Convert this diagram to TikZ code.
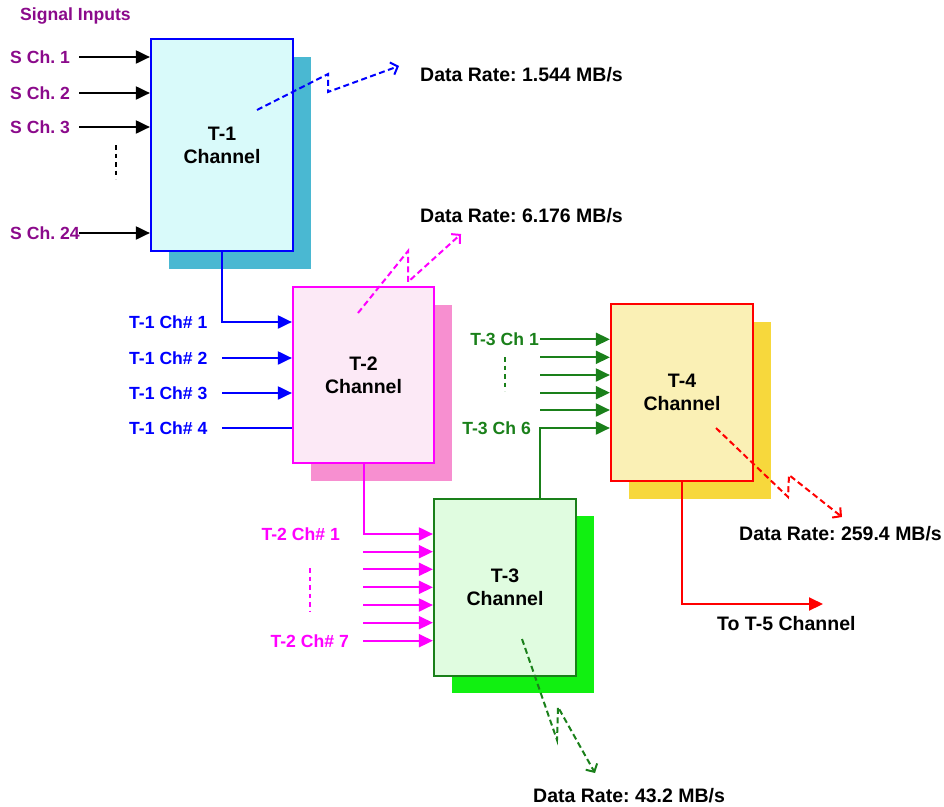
\documentclass[tikz,border=0pt]{standalone}
\usepackage{fontspec}
\setmainfont{Liberation Sans}
\usetikzlibrary{arrows.meta,shadows}
\frenchspacing
\begin{document}
\begin{tikzpicture}[x=1pt,y=-1pt,
  chbox/.style={draw,line width=2.2pt,minimum width=142pt,minimum height=177pt,inner sep=0pt,align=center,
    font=\fontsize{19.5}{23}\selectfont\bfseries},
  feed/.style={line width=2pt,-{Triangle[length=14pt,width=13pt]}},
  plain/.style={line width=2pt},
  rate/.style={line width=2pt,dash pattern=on 6pt off 3.5pt,-{Straight Barb[length=6pt,width=13pt]}},
  gap/.style={line width=1.8pt,dash pattern=on 4.5pt off 4pt},
  lbl/.style={inner sep=0pt,font=\fontsize{17.6}{20}\selectfont\bfseries},
  big/.style={inner sep=0pt,font=\fontsize{19.5}{22}\selectfont\bfseries}]
\definecolor{purp}{HTML}{8B0A8B}
\definecolor{mag}{HTML}{FF00FF}
\definecolor{grn}{HTML}{1A801A}
\definecolor{fillone}{HTML}{D9FAFA}
\definecolor{shadeone}{HTML}{4AB8D2}
\definecolor{filltwo}{HTML}{FCE9F6}
\definecolor{shadetwo}{HTML}{F78FD0}
\definecolor{fillthree}{HTML}{E0FCE0}
\definecolor{shadethree}{HTML}{11F011}
\definecolor{fillfour}{HTML}{FAF0B5}
\definecolor{shadefour}{HTML}{F7D83C}
\useasboundingbox (0,0) rectangle (944,806);
% channel boxes
\node[chbox,draw=blue,fill=fillone,minimum height=212pt,
  drop shadow={shadow xshift=18pt,shadow yshift=-18pt,fill=shadeone,opacity=1}] (t1) at (222,145) {T-1\\Channel};
\node[chbox,draw=mag,fill=filltwo,minimum width=141pt,minimum height=176pt,
  drop shadow={shadow xshift=18pt,shadow yshift=-18pt,fill=shadetwo,opacity=1}] (t2) at (363.5,375) {T-2\\Channel};
\node[chbox,draw=grn,fill=fillthree,
  drop shadow={shadow xshift=18pt,shadow yshift=-17pt,fill=shadethree,opacity=1}] (t3) at (505,587.5) {T-3\\Channel};
\node[chbox,draw=red,fill=fillfour,
  drop shadow={shadow xshift=18pt,shadow yshift=-18pt,fill=shadefour,opacity=1}] (t4) at (682,392.5) {T-4\\Channel};
% T-1 inputs
\node[lbl,purp,anchor=base west] (sig) at (20,20.7) {Signal Inputs};
\foreach \y/\t in {57/1,93/2,127/3,233/24} {
  \node[lbl,purp,anchor=base west] (s\t) at (10,\y+6.3) {S Ch. \t};
  \draw[feed] (79,\y) -- (t1.west |- 0,\y);
}
\draw[gap] (116,145) -- (116,179);
% T-2 inputs
\draw[feed,blue] (t1.south) |- (t2.west |- 0,322);
\foreach \y/\t in {322/1,358/2,393/3,428/4}
  \node[lbl,blue,anchor=base west] (a\t) at (129,\y+6.3) {T-1 Ch\# \t};
\foreach \y in {358,393}
  \draw[feed,blue] (222,\y) -- (t2.west |- 0,\y);
\draw[plain,blue] (222,428) -- (t2.west |- 0,428);
% T-3 inputs
\draw[feed,mag] (t2.south) |- (t3.west |- 0,534);
\foreach \y in {551.7,569.3,587.3,605,622.7,640.7}
  \draw[feed,mag] (363,\y) -- (t3.west |- 0,\y);
\node[lbl,mag,anchor=base east] (b1) at (340,540.3) {T-2 Ch\# 1};
\node[lbl,mag,anchor=base east] (b7) at (349,647) {T-2 Ch\# 7};
\draw[gap,mag] (310,568) -- (310,612);
% T-4 inputs
\draw[feed,grn] (t3.north -| 540,0) |- (t4.west |- 0,428);
\foreach \y in {339.3,357.3,375,392.7,410}
  \draw[feed,grn] (540,\y) -- (t4.west |- 0,\y);
\node[lbl,grn,anchor=base east] (c1) at (539,345.6) {T-3 Ch 1};
\node[lbl,grn,anchor=base east] (c6) at (531,434) {T-3 Ch 6};
\draw[gap,grn] (505,357) -- (505,391);
% T-4 output
\coordinate (t5) at (823,604);
\draw[feed,red] (t4.south) |- (t5);
\node[big,anchor=base west] (to5) at (717,630.3) {To T-5 Channel};
% data rates
\node[big,anchor=base west] (r1) at (420,81.3) {Data Rate: 1.544 MB/s};
\node[big,anchor=base west] (r2) at (420,222.7) {Data Rate: 6.176 MB/s};
\node[big,anchor=base west] (r3) at (533,802) {Data Rate: 43.2 MB/s};
\node[big,anchor=base west] (r4) at (739,540.3) {Data Rate: 259.4 MB/s};
\draw[rate,blue] (257,110) -- (328,74) -- (328,92) -- (399,66);
\draw[rate,mag] (358,313) -- (408,251) -- (408,282) -- (461,234);
\draw[rate,grn] (522,639) -- (557,740) -- (558,707) -- (595,773);
\draw[rate,red] (716,428) -- (788,497) -- (789,475) -- (842,517);
\end{tikzpicture}
\end{document}
